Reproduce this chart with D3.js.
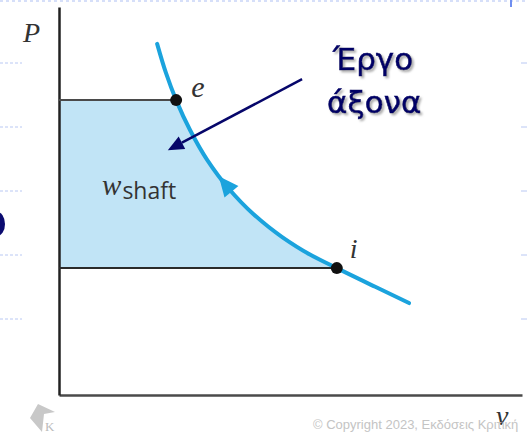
<!DOCTYPE html>
<html>
<head>
<meta charset="utf-8">
<script src="https://cdn.jsdelivr.net/npm/d3@7"></script>
<style>
  html, body { margin: 0; padding: 0; background: #fff; }
  svg { display: block; }
</style>
</head>
<body>
<div id="chart"></div>
<script>
// ---- data (arbitrary v / P units) ----
const curveV = [2.12, 2.31, 2.53, 2.83, 3.20, 3.65, 4.19, 4.82, 5.42, 6.00, 6.83, 7.56];
const curveP = [9.05, 8.30, 7.60, 6.83, 6.06, 5.34, 4.67, 4.07, 3.62, 3.27, 2.79, 2.37];
const stateNames = ["e", "i"];
const stateIdx = [2, 9];            // e and i are points of the curve
const arrowAtV = 3.45;              // direction arrow on the process
const noteLines = ["Έργο", "άξονα"];
const notePos = [5.79, 8.38];       // v, P of the first text line
const noteFrom = [5.25, 8.14];      // pointer start
const noteTo = [2.35, 6.31];        // pointer tip
const workPos = [0.93, 5.15];
const copyright = "© Copyright 2023, Εκδόσεις Κριτική";

const width = 527, height = 435;
const svg = d3.select("#chart").append("svg")
  .attr("width", width).attr("height", height);

const x = d3.scaleLinear().domain([0, 10]).range([59, 522]);
const y = d3.scaleLinear().domain([0, 10]).range([395, 7]);

const pts = curveV.map((v, i) => ({ v, p: curveP[i] }));

// ---- slide decorations ----
const deco = svg.append("g");
deco.append("line").attr("x1", 0).attr("x2", width).attr("y1", 1).attr("y2", 1)
  .attr("stroke", "#c9d5f7").attr("stroke-width", 1.5).attr("stroke-dasharray", "3,3");
[63, 127, 191, 255, 319].forEach(t => {
  deco.append("line").attr("x1", 0).attr("x2", 22).attr("y1", t).attr("y2", t)
    .attr("stroke", "#b9c8f3").attr("stroke-dasharray", "3,2");
  deco.append("line").attr("x1", 521).attr("x2", 527).attr("y1", t).attr("y2", t)
    .attr("stroke", "#b9c8f3");
});
deco.append("rect").attr("x", 510).attr("y", 0).attr("width", 2).attr("height", 7).attr("fill", "#6f8ef0");
deco.append("ellipse").attr("cx", -3).attr("cy", 224).attr("rx", 8).attr("ry", 12).attr("fill", "#0b0b70");
deco.append("path").attr("d", "M30,418 L38,404 L55,412 L44,414 L42,432 Z").attr("fill", "#c8c8c8");
deco.append("text").attr("x", 45).attr("y", 431).attr("font-family", "Liberation Serif")
  .attr("font-size", 13).attr("fill", "#bbb").text("K");

// ---- shaded work area ----
const area = d3.area()
  .x0(x(0)).x1(d => x(d.v)).y(d => y(d.p))
  .curve(d3.curveMonotoneY);
svg.append("path")
  .datum(pts.slice(stateIdx[0], stateIdx[1] + 1))
  .attr("d", area)
  .attr("fill", "#c1e4f6");

// ---- axes ----
svg.append("g")
  .attr("transform", `translate(0,${y(0)})`)
  .call(d3.axisBottom(x).ticks(0).tickSizeOuter(0))
  .select(".domain").attr("stroke", "#4a4a4a").attr("stroke-width", 2.5);
svg.append("g")
  .attr("transform", `translate(${x(0)},0)`)
  .call(d3.axisLeft(y).ticks(0).tickSizeOuter(0))
  .select(".domain").attr("stroke", "#222").attr("stroke-width", 2.5);

// ---- horizontal lines to e and i ----
stateIdx.forEach((k, j) => {
  svg.append("line")
    .attr("x1", x(0)).attr("x2", x(pts[k].v))
    .attr("y1", y(pts[k].p)).attr("y2", y(pts[k].p))
    .attr("stroke", j === 0 ? "#4a4a4a" : "#2a2a2a").attr("stroke-width", 2);
});

// ---- process curve ----
const line = d3.line().x(d => x(d.v)).y(d => y(d.p)).curve(d3.curveMonotoneY);
const curvePath = svg.append("path")
  .datum(pts)
  .attr("d", line)
  .attr("fill", "none")
  .attr("stroke", "#1ba3dd")
  .attr("stroke-width", 4)
  .attr("stroke-linecap", "round");

// direction arrow on the curve (points from i toward e)
const node = curvePath.node();
const L = node.getTotalLength();
let s = 0, best = Infinity;
for (let t = 0; t <= L; t += 0.5) {
  const q = node.getPointAtLength(t);
  const dd = Math.abs(q.x - x(arrowAtV));
  if (dd < best) { best = dd; s = t; }
}
const tip = node.getPointAtLength(s);
const back = node.getPointAtLength(s + 20);
const dx = tip.x - back.x, dy = tip.y - back.y, len = Math.hypot(dx, dy);
const nx = -dy / len * 9, ny = dx / len * 9;
svg.append("path")
  .attr("d", `M${tip.x},${tip.y} L${back.x + nx},${back.y + ny} L${back.x - nx},${back.y - ny} Z`)
  .attr("fill", "#1ba3dd");

// ---- state points ----
stateIdx.forEach((k, j) => {
  svg.append("circle")
    .attr("cx", x(pts[k].v)).attr("cy", y(pts[k].p)).attr("r", 6)
    .attr("fill", "#111");
  svg.append("text")
    .attr("x", x(pts[k].v) + (j === 0 ? 15 : 13))
    .attr("y", y(pts[k].p) - (j === 0 ? 3 : 10))
    .attr("font-family", "Liberation Serif")
    .attr("font-style", "italic")
    .attr("font-size", j === 0 ? 30 : 28)
    .attr("fill", "#333")
    .text(stateNames[j]);
});

// ---- axis labels ----
svg.append("text").attr("x", 23).attr("y", 42)
  .attr("font-family", "Liberation Serif").attr("font-style", "italic")
  .attr("font-size", 28).attr("fill", "#333").text("P");
svg.append("text").attr("x", 496).attr("y", 425)
  .attr("font-family", "Liberation Serif").attr("font-style", "italic")
  .attr("font-size", 28).attr("fill", "#333").text("v");

// ---- w_shaft ----
const w = svg.append("text")
  .attr("x", x(workPos[0])).attr("y", y(workPos[1]))
  .attr("fill", "#333");
w.append("tspan").attr("font-family", "Liberation Serif").attr("font-style", "italic")
  .attr("font-size", 29).text("w");
w.append("tspan").attr("font-family", "Open Sans").attr("font-size", 23)
  .attr("dy", 4).attr("dx", 1).text("shaft");

// ---- annotation ----
const defs = svg.append("defs");
const f = defs.append("filter").attr("id", "sh").attr("x", "-10%").attr("y", "-10%")
  .attr("width", "130%").attr("height", "140%");
f.append("feDropShadow").attr("dx", 2).attr("dy", 2).attr("stdDeviation", 1.2)
  .attr("flood-color", "#888").attr("flood-opacity", 0.7);

const ax0 = x(noteFrom[0]), ay0 = y(noteFrom[1]);
const ax1 = x(noteTo[0]), ay1 = y(noteTo[1]);
const adx = ax1 - ax0, ady = ay1 - ay0, alen = Math.hypot(adx, ady);
const ux = adx / alen, uy = ady / alen;
const hb = 16, hw = 7;
svg.append("line")
  .attr("x1", ax0).attr("y1", ay0)
  .attr("x2", ax1 - ux * hb).attr("y2", ay1 - uy * hb)
  .attr("stroke", "#06066a").attr("stroke-width", 2.5);
svg.append("path")
  .attr("d", `M${ax1},${ay1} L${ax1 - ux * hb - uy * hw},${ay1 - uy * hb + ux * hw} L${ax1 - ux * hb + uy * hw},${ay1 - uy * hb - ux * hw} Z`)
  .attr("fill", "#06066a");

svg.append("g").attr("filter", "url(#sh)")
  .selectAll("text").data(noteLines).enter().append("text")
  .attr("x", (d, i) => x(notePos[0]) + (i === 0 ? 6 : 0))
  .attr("y", (d, i) => y(notePos[1]) + i * 43)
  .attr("font-family", "DejaVu Sans")
  .attr("font-size", 31)
  .attr("fill", "#000066")
  .attr("stroke", "#000066")
  .attr("stroke-width", 0.6)
  .text(d => d);

// ---- copyright ----
svg.append("text").attr("x", 313).attr("y", 429)
  .attr("font-family", "Liberation Sans").attr("font-size", 13)
  .attr("fill", "#c4c4c4").text(copyright);
</script>
</body>
</html>
